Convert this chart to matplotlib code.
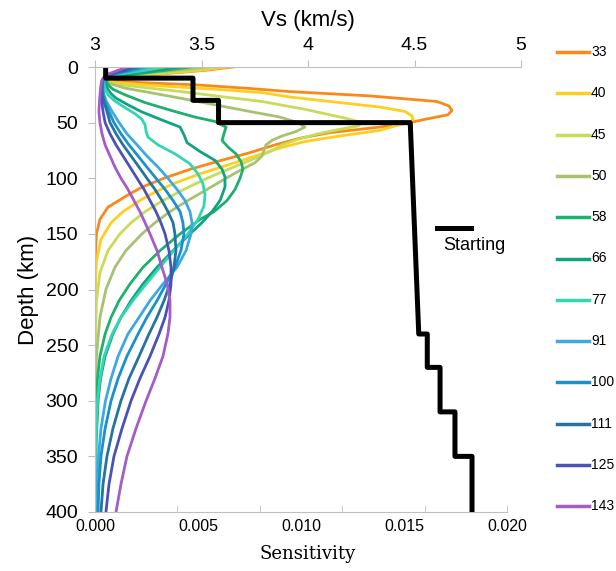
import numpy as np
import matplotlib.pyplot as plt

plt.rcParams['font.family'] = ['Liberation Sans', 'DejaVu Sans']

# periods (s) and their colours
periods = [33, 40, 45, 50, 58, 66, 77, 91, 100, 111, 125, 143]
colors = ['#FA8A18', '#FFCF1F', '#C8DC58', '#A7C270', '#1FAF6E', '#0FA383',
          '#33D6B0', '#3DA9E3', '#1891CC', '#23749E', '#4A52B8', '#A55BC8']

# depth (km) / sensitivity (x1e-3)
d_33 = [0, 3, 6, 9, 12, 14, 16, 19, 22, 26, 31, 35, 39, 43, 47, 50, 54, 59, 64, 70,
        77, 84, 92, 100, 108, 115, 126, 137, 150, 170, 200, 400]
s_33 = [6.70, 5.34, 3.40, 1.21, 0.73, 2.18, 4.85, 7.28, 9.37, 13.35, 16.60, 17.18, 17.33,
        17.13, 16.02, 15.29, 13.83, 11.41, 9.95, 8.74, 7.52, 6.12, 4.61, 3.35, 2.28, 1.60,
        0.63, 0.24, 0.07, 0.015, 0, 0]

d_40 = [0, 3, 6, 9, 12, 14, 17, 20, 23, 27, 32, 36, 40, 44, 47, 50, 53, 57, 62, 67, 72,
        80, 88, 96, 104, 112, 120, 130, 140, 155, 175, 200, 400]
s_40 = [6.41, 5.10, 3.16, 1.12, 0.63, 0.97, 3.16, 5.83, 8.11, 9.47, 11.89, 13.83, 15.05,
        15.39, 15.44, 15.29, 14.56, 13.83, 11.89, 10.19, 9.13, 7.77, 6.46, 5.10, 3.93, 2.96,
        2.18, 1.36, 0.78, 0.29, 0.07, 0.015, 0]

d_45 = [0, 3, 6, 9, 12, 15, 18, 22, 27, 31, 34, 38, 42, 46, 50, 53, 56, 60, 65, 70, 76,
        84, 92, 100, 110, 120, 130, 140, 150, 165, 185, 210, 250, 400]
s_45 = [5.92, 4.61, 2.91, 0.97, 0.58, 0.83, 2.18, 4.13, 6.31, 8.11, 8.98, 10.19, 11.17,
        12.14, 12.96, 12.77, 11.89, 10.83, 9.85, 9.08, 8.50, 7.52, 6.46, 5.44, 4.32, 3.30,
        2.43, 1.75, 1.21, 0.63, 0.24, 0.07, 0.015, 0]

d_50 = [0, 3, 6, 9, 12, 15, 19, 23, 28, 34, 40, 45, 50, 54, 58, 62, 66, 70, 75, 80, 86,
        93, 100, 110, 120, 130, 140, 150, 165, 180, 200, 225, 260, 300, 400]
s_50 = [5.34, 3.88, 2.18, 0.83, 0.53, 0.73, 1.46, 2.67, 4.13, 5.83, 7.52, 8.98, 9.85,
        10.19, 9.76, 9.08, 8.59, 8.30, 8.20, 8.11, 7.77, 7.04, 6.36, 5.44, 4.51, 3.64, 2.91,
        2.28, 1.50, 0.97, 0.53, 0.24, 0.07, 0.015, 0]

d_58 = [0, 3, 6, 9, 12, 16, 20, 25, 32, 39, 45, 49, 54, 60, 66, 72, 78, 85, 92, 100, 110,
        120, 130, 137, 150, 165, 180, 195, 210, 225, 240, 260, 280, 320, 400]
s_58 = [4.61, 3.40, 2.09, 0.83, 0.53, 0.63, 0.87, 1.46, 2.43, 3.69, 4.85, 5.83, 6.36,
        6.26, 6.17, 6.46, 6.84, 7.09, 7.18, 7.04, 6.80, 6.41, 5.78, 5.10, 4.13, 3.16, 2.33,
        1.70, 1.17, 0.78, 0.49, 0.24, 0.12, 0.02, 0]

d_66 = [0, 3, 6, 9, 12, 16, 20, 24, 28, 34, 40, 47, 54, 61, 68, 76, 84, 92, 99, 108, 120,
        130, 140, 150, 165, 180, 195, 210, 225, 240, 260, 280, 300, 340, 400]
s_66 = [4.03, 2.91, 1.70, 0.73, 0.49, 0.53, 0.63, 0.78, 1.02, 1.60, 2.23, 3.16, 4.13,
        4.32, 4.47, 5.10, 5.83, 6.17, 6.31, 6.31, 6.07, 5.68, 5.19, 4.61, 3.79, 3.01, 2.33,
        1.75, 1.26, 0.87, 0.49, 0.27, 0.15, 0.05, 0.015]

d_77 = [0, 3, 6, 9, 12, 16, 20, 25, 30, 36, 42, 47, 52, 58, 63, 70, 78, 87, 96, 105, 115,
        125, 137, 150, 165, 180, 195, 210, 225, 240, 260, 280, 300, 330, 360, 400]
s_77 = [3.40, 2.43, 1.36, 0.63, 0.44, 0.44, 0.49, 0.63, 0.92, 1.41, 1.94, 2.28, 2.43,
        2.48, 2.57, 3.06, 3.88, 4.61, 5.00, 5.24, 5.34, 5.29, 5.00, 4.51, 3.83, 3.16, 2.48,
        1.84, 1.26, 0.83, 0.44, 0.24, 0.12, 0.06, 0.03, 0.01]

# longer periods share one depth list
d_long = [0, 3, 6, 9, 12, 16, 20, 25, 30, 40, 50, 60, 70, 80, 90, 100, 110, 120, 130, 140,
          150, 165, 180, 195, 210, 225, 240, 260, 280, 300, 325, 350, 375, 400]
s_91 = [2.67, 1.94, 1.12, 0.58, 0.44, 0.39, 0.39, 0.44, 0.53, 0.83, 1.17, 1.55, 2.04,
        2.52, 3.06, 3.54, 3.98, 4.37, 4.61, 4.71, 4.66, 4.42, 3.98, 3.30, 2.67, 2.14, 1.60,
        1.12, 0.78, 0.51, 0.29, 0.17, 0.10, 0.05]
s_100 = [2.33, 1.70, 0.97, 0.53, 0.39, 0.36, 0.36, 0.39, 0.46, 0.68, 0.92, 1.26, 1.65,
         2.09, 2.52, 2.96, 3.40, 3.79, 4.13, 4.27, 4.32, 4.17, 3.88, 3.45, 3.01, 2.52, 2.09,
         1.55, 1.12, 0.78, 0.49, 0.29, 0.19, 0.15]
s_111 = [2.04, 1.50, 0.87, 0.49, 0.36, 0.34, 0.34, 0.36, 0.41, 0.58, 0.73, 1.02, 1.36,
         1.75, 2.14, 2.52, 2.91, 3.25, 3.54, 3.79, 3.88, 3.93, 3.83, 3.64, 3.35, 3.01, 2.62,
         2.14, 1.65, 1.26, 0.87, 0.58, 0.39, 0.29]
s_125 = [1.80, 1.31, 0.78, 0.46, 0.34, 0.32, 0.29, 0.29, 0.32, 0.39, 0.49, 0.73, 1.02,
         1.36, 1.70, 2.04, 2.38, 2.67, 2.96, 3.20, 3.40, 3.59, 3.69, 3.69, 3.59, 3.40, 3.11,
         2.67, 2.18, 1.75, 1.31, 0.92, 0.68, 0.53]
s_143 = [1.55, 1.12, 0.68, 0.44, 0.34, 0.29, 0.27, 0.24, 0.22, 0.19, 0.24, 0.34, 0.49,
         0.73, 0.97, 1.26, 1.60, 1.89, 2.18, 2.43, 2.67, 3.01, 3.25, 3.50, 3.64, 3.64, 3.54,
         3.30, 2.91, 2.48, 1.99, 1.55, 1.26, 1.02]

depth_lists = [d_33, d_40, d_45, d_50, d_58, d_66, d_77, d_long, d_long, d_long, d_long, d_long]
sens_lists = [s_33, s_40, s_45, s_50, s_58, s_66, s_77, s_91, s_100, s_111, s_125, s_143]

# starting Vs model
start_depth = [0, 10, 10, 30, 30, 50, 50, 240, 240, 270, 270, 310, 310, 350, 350, 400]
start_vs = [3.05, 3.05, 3.46, 3.46, 3.58, 3.58, 4.48, 4.52, 4.56, 4.56, 4.62, 4.62,
            4.69, 4.69, 4.77, 4.77]

grey = '#BFBFBF'

fig = plt.figure(figsize=(6.16, 5.71), dpi=100)
ax = fig.add_axes([95 / 616, 59 / 571, 426 / 616, 445 / 571])

for d, s, c in zip(depth_lists, sens_lists, colors):
    ax.plot(np.array(s) * 1e-3, d, color=c, lw=2.0)

ax.set_ylim(400, 0)
ax.set_xlim(0, 0.02068)
ax.set_yticks(np.arange(0, 401, 50))
ax.tick_params(axis='y', direction='out', length=5, color=grey, labelsize=14, pad=7)

# tick marks and tick labels are not aligned in the original
ax.xaxis.remove_overlapping_locs = False
ax.set_xticks(np.arange(0, 0.0201, 0.005))
ax.set_xticklabels(['0.000', '0.005', '0.010', '0.015', '0.020'])
ax.set_xticks(np.arange(0, 0.0201, 0.004), minor=True)
ax.tick_params(axis='x', which='major', length=0, labelsize=11.5, pad=5)
ax.tick_params(axis='x', which='minor', direction='in', length=5, color=grey)

for side in ['top', 'right']:
    ax.spines[side].set_visible(False)
for side in ['left', 'bottom']:
    ax.spines[side].set_color(grey)
ax.spines['bottom'].set_bounds(0, 0.020)

ax.set_ylabel('Depth (km)', fontsize=16, labelpad=5)
ax.set_xlabel('Sensitivity', fontsize=13, family='DejaVu Serif', labelpad=8)

ax2 = ax.twiny()
ax2.plot(start_vs, start_depth, color='black', lw=3.6)
ax2.set_xlim(3, 5)
ax2.set_xticks([3, 3.5, 4, 4.5, 5])
ax2.set_xticklabels(['3', '3.5', '4', '4.5', '5'])
ax2.tick_params(axis='x', direction='out', length=5, color=grey, labelsize=14, pad=4)
for side in ['bottom', 'left', 'right']:
    ax2.spines[side].set_visible(False)
ax2.spines['top'].set_color(grey)
ax2.set_xlabel('Vs (km/s)', fontsize=16, labelpad=8)

# legends drawn in figure pixel space
lax = fig.add_axes([0, 0, 1, 1])
lax.set_xlim(0, 616)
lax.set_ylim(571, 0)
lax.axis('off')
for i, (p, c) in enumerate(zip(periods, colors)):
    y = 52 + 41.3 * i
    lax.plot([557, 589], [y, y], color=c, lw=2.5)
    lax.text(591, y, str(p), va='center', ha='left', fontsize=10)
lax.plot([437, 471], [228, 228], color='black', lw=3.6)
lax.text(443, 245, 'Starting', va='center', ha='left', fontsize=13)

fig.savefig('out.png', dpi=100)
